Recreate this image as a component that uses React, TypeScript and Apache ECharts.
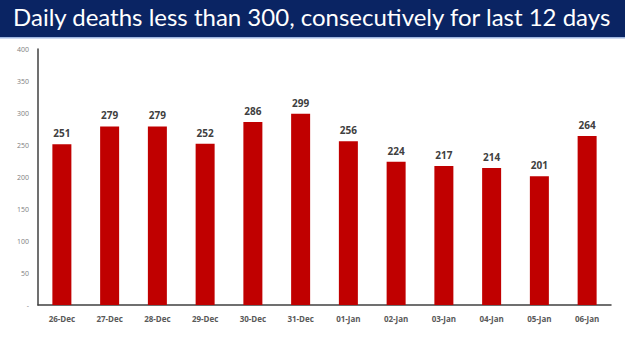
import React, { useEffect, useRef } from "react";
import * as echarts from "echarts";

const titleText = "Daily deaths less than 300, consecutively for last 12 days";
const categories = ["26-Dec", "27-Dec", "28-Dec", "29-Dec", "30-Dec", "31-Dec", "01-Jan", "02-Jan", "03-Jan", "04-Jan", "05-Jan", "06-Jan"];
const deaths = [251, 279, 279, 252, 286, 299, 256, 224, 217, 214, 201, 264];
const yTicks = [0, 50, 100, 150, 200, 250, 300, 350, 400];

export default function App() {
  const ref = useRef<HTMLDivElement>(null);
  useEffect(() => {
    if (!ref.current) return;
    const chart = echarts.init(ref.current, undefined, { renderer: "svg" });
    chart.setOption({
      animation: false,
      backgroundColor: "#ffffff",
      graphic: [
        { type: "rect", left: 0, top: 0, shape: { width: 625, height: 37 }, style: { fill: "#0a2463" } },
        { type: "rect", left: 0, top: 37, shape: { width: 625, height: 1.5 }, style: { fill: "#9fb6e0" } },
        {
          type: "text",
          left: "center",
          top: 4,
          style: { text: titleText, fill: "#ffffff", font: "24px 'Lato', 'Open Sans', sans-serif" },
        },
      ],
      grid: { left: 38, right: 14, top: 49, bottom: 46, containLabel: false },
      xAxis: {
        type: "category",
        data: categories,
        axisLine: { lineStyle: { color: "#404040", width: 1.5 } },
        axisTick: { show: false },
        axisLabel: { color: "#595959", fontSize: 8, fontWeight: "bold", margin: 9, fontFamily: "'Open Sans', sans-serif" },
      },
      yAxis: {
        type: "value",
        min: yTicks[0],
        max: yTicks[yTicks.length - 1],
        interval: 50,
        axisLine: { show: true, lineStyle: { color: "#404040", width: 1.5 } },
        axisTick: { show: false },
        splitLine: { show: false },
        axisLabel: {
          color: "#808080",
          fontSize: 7,
          margin: 9,
          fontFamily: "'Open Sans', sans-serif",
          formatter: (v: number) => (v === 0 ? "-" : String(v)),
        },
      },
      series: [
        {
          type: "bar",
          data: deaths,
          barWidth: 19,
          itemStyle: { color: "#c00000" },
          label: {
            show: true,
            position: "top",
            distance: 6,
            color: "#404040",
            fontSize: 10,
            fontWeight: "bold",
            fontFamily: "'Open Sans', sans-serif",
          },
        },
      ],
    });
    return () => chart.dispose();
  }, []);
  return <div ref={ref} style={{ width: 625, height: 351, position: "absolute", left: 0, top: 0 }} />;
}
